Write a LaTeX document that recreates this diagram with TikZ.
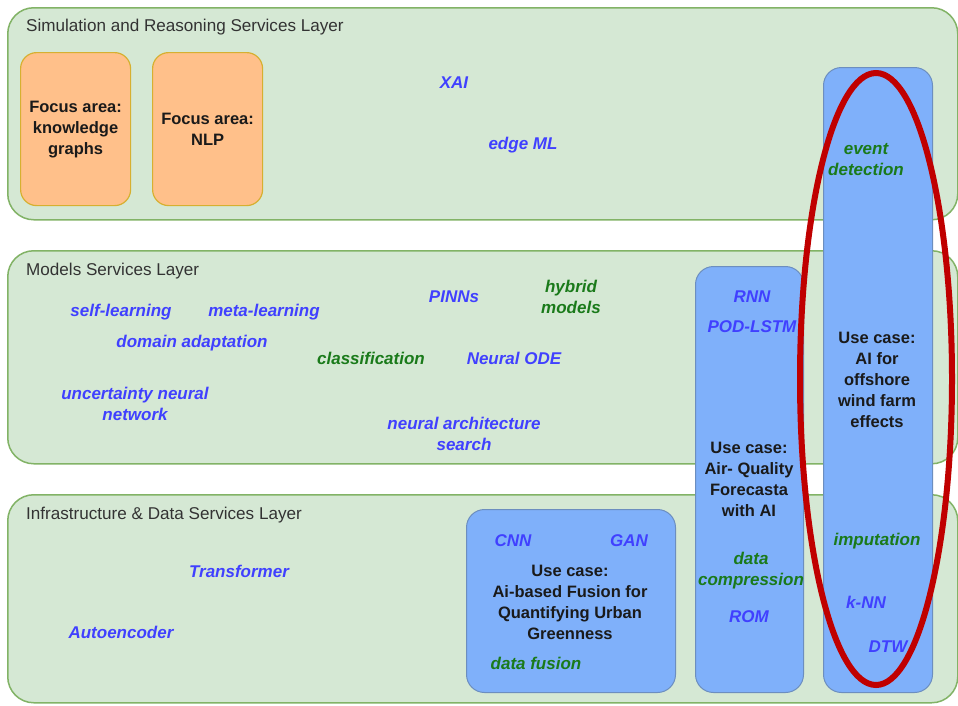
\documentclass[tikz,border=0pt]{standalone}
\usepackage{fontspec}
\setmainfont{Liberation Sans}
\usetikzlibrary{shapes.geometric}
\begin{document}
\begin{tikzpicture}[x=1pt,y=-1pt,
  layer/.style={draw=layerline, fill=layerfill, line width=1.5pt, rounded corners=26pt, anchor=north west, inner sep=0pt},
  focusbox/.style={draw=focusline, fill=focusfill, line width=1.2pt, rounded corners=16pt, anchor=north west, inner sep=0pt},
  usebox/.style={draw=useline, fill=usefill, line width=1pt, rounded corners=18pt, anchor=north west, inner sep=0pt},
  ltitle/.style={anchor=west, inner sep=0pt, text=titletext, font=\fontsize{17.1}{20}\selectfont},
  maintext/.style={align=center, inner sep=0pt, text=maintxt, font=\fontsize{16.5}{21}\selectfont\bfseries},
  btag/.style={align=center, inner sep=0pt, text=bluetxt, font=\fontsize{17}{21}\selectfont\bfseries\itshape},
  gtag/.style={align=center, inner sep=0pt, text=greentxt, font=\fontsize{17}{21}\selectfont\bfseries\itshape},
]
\definecolor{layerfill}{HTML}{D5E8D4}
\definecolor{layerline}{HTML}{82B366}
\definecolor{focusfill}{HTML}{FFC08A}
\definecolor{focusline}{HTML}{D6B030}
\definecolor{usefill}{HTML}{7FB0FA}
\definecolor{useline}{HTML}{6C8EBF}
\definecolor{titletext}{HTML}{333333}
\definecolor{maintxt}{HTML}{1A1A1A}
\definecolor{bluetxt}{HTML}{4040FF}
\definecolor{greentxt}{HTML}{1A7A1A}
\definecolor{ringred}{HTML}{C00000}

\useasboundingbox[fill=white] (0,0) rectangle (958,705);

% service layers
\node[layer, minimum width=950pt, minimum height=212pt] (simlayer) at (7,7) {};
\node[layer, minimum width=950pt, minimum height=213pt] (modlayer) at (7,250) {};
\node[layer, minimum width=950pt, minimum height=208pt] (infralayer) at (7,494) {};

\node[ltitle] (simtitle) at (26,27) {Simulation and Reasoning Services Layer};
\node[ltitle] (modtitle) at (26,271) {Models Services Layer};
\node[ltitle] (infratitle) at (26,515) {Infrastructure \& Data Services Layer};

% focus areas
\node[focusbox, minimum width=110pt, minimum height=153pt] (kgbox) at (20,52) {};
\node[focusbox, minimum width=110pt, minimum height=153pt] (nlpbox) at (152,52) {};
\node[maintext] (kgtext) at (kgbox.center) {Focus area:\\knowledge\\graphs};
\node[maintext] (nlptext) at (nlpbox.center) {Focus area:\\NLP};

% use cases
\node[usebox, minimum width=109pt, minimum height=625pt] (windbox) at (823,67) {};
\node[usebox, minimum width=108pt, minimum height=426pt] (airbox) at (695,266) {};
\node[usebox, minimum width=209pt, minimum height=183pt] (urbanbox) at (466,509) {};

\node[maintext] (windtext) at (877,380) {Use case:\\AI for\\offshore\\wind farm\\effects};
\node[maintext] (airtext) at (749,479.5) {Use case:\\Air- Quality\\Forecasta\\with AI};
\node[maintext] (urbantext) at (570,602) {Use case:\\Ai-based Fusion for\\Quantifying Urban\\Greenness};

% methods: simulation and reasoning layer
\node[btag] (xai) at (454,83) {XAI};
\node[btag] (edgeml) at (523,145) {edge ML};
\node[gtag] (eventdet) at (866,159.5) {event\\detection};

% methods: models layer
\node[btag] (selfl) at (121,312) {self-learning};
\node[btag] (metal) at (264,312) {meta-learning};
\node[btag] (domad) at (192,343) {domain adaptation};
\node[btag] (pinns) at (454,297) {PINNs};
\node[gtag] (hybrid) at (571,297) {hybrid\\models};
\node[gtag] (classif) at (371,358) {classification};
\node[btag] (node) at (514,358) {Neural ODE};
\node[btag] (unn) at (135,403.5) {uncertainty neural\\network};
\node[btag] (nas) at (464,433.5) {neural architecture\\search};
\node[btag] (rnn) at (752,297) {RNN};
\node[btag] (podlstm) at (752,327) {POD-LSTM};

% methods: infrastructure and data layer
\node[btag] (transf) at (239,571) {Transformer};
\node[btag] (autoenc) at (121,632) {Autoencoder};
\node[btag] (cnn) at (513,541) {CNN};
\node[btag] (gan) at (629,541) {GAN};
\node[gtag] (datafus) at (536,663) {data fusion};
\node[gtag] (datacomp) at (751,570.5) {data\\compression};
\node[btag] (rom) at (749,617) {ROM};
\node[gtag] (imput) at (877,541) {imputation};
\node[btag] (knn) at (866,602) {k-NN};
\node[btag] (dtw) at (888,647) {DTW};

% highlight ring
\node[draw=ringred, line width=6pt, ellipse, minimum width=152pt, minimum height=612pt, inner sep=0pt] (ring) at (876,379) {};
\end{tikzpicture}
\end{document}
